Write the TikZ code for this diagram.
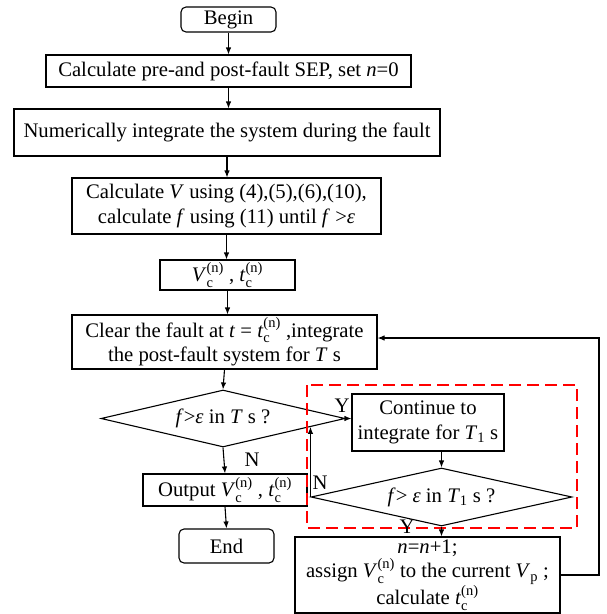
\documentclass[tikz,border=0pt]{standalone}
\usepackage{fontspec}
\setmainfont{Liberation Serif}
\usetikzlibrary{arrows.meta,shapes.geometric,calc}
\newcommand\scsup[2]{\rlap{\raisebox{-0.25ex}{\textsubscript{#1}}}\raisebox{0.2ex}{\textsuperscript{#2}}}
\tikzset{
  base/.style={draw, line width=1.1pt, inner sep=0pt, align=center, font=\fontsize{20.7}{24.5}\selectfont},
  rbox/.style={base},
  term/.style={base, rounded corners=5pt},
  dec/.style={base, shape=diamond},
  arr/.style={line width=1.1pt, -{Latex[length=7pt,width=5.5pt]}},
  lbl/.style={font=\fontsize{20.7}{24}\selectfont, inner sep=0pt},
  redbox/.style={draw=red, line width=1.8pt, dash pattern=on 12pt off 6pt}
}
\begin{document}
\begin{tikzpicture}[x=1pt,y=-1pt]
\useasboundingbox (0,0) rectangle (606,614);
\node[term, minimum width=95pt, minimum height=25pt] (begin) at (228.5,19.5) {Begin};
\node[rbox, minimum width=365pt, minimum height=32pt] (b1) at (228.5,71) {Calculate pre-and post-fault SEP, set \textit{n}=0};
\node[rbox, minimum width=426pt, minimum height=47pt] (b2) at (227,132.5) {Numerically integrate the system during the fault};
\node[rbox, minimum width=309pt, minimum height=56pt] (b3) at (226.5,206) {Calculate \textit{V} using (4),(5),(6),(10),\\calculate \textit{f} using (11) until \textit{f} >\textit{ε}};
\node[rbox, minimum width=135pt, minimum height=30pt] (b4) at (227.5,275) {\textit{V}\scsup{c}{(n)} , \textit{t}\scsup{c}{(n)}};
\node[rbox, minimum width=305pt, minimum height=54pt] (b5) at (224.5,342) {Clear the fault at \textit{t} = \textit{t}\scsup{c}{(n)} ,integrate\\the post-fault system for \textit{T} s};
\node[dec, aspect=4.28, minimum width=244pt, minimum height=57pt] (d1) at (223,418.5) {\textit{f}>\textit{ε} in \textit{T} s ?};
\node[rbox, minimum width=164pt, minimum height=32pt] (out) at (225,490) {Output \textit{V}\scsup{c}{(n)} , \textit{t}\scsup{c}{(n)}};
\node[term, minimum width=95pt, minimum height=34pt] (end) at (226.5,546) {End};
\node[rbox, minimum width=152pt, minimum height=57pt] (cont) at (428,422.5) {Continue to\\integrate for \textit{T}\textsubscript{1} s};
\node[dec, aspect=4.5, minimum width=261pt, minimum height=58pt] (d2) at (441.5,497) {\textit{f}> \textit{ε} in \textit{T}\textsubscript{1} s ?};
\node[rbox, minimum width=265pt, minimum height=76pt] (bot) at (427.5,575) {\textit{n}=\textit{n}+1;\\assign \textit{V}\scsup{c}{(n)} to the current \textit{V}\textsubscript{p} ;\\calculate \textit{t}\scsup{c}{(n)}};
\draw[redbox] (307,385) rectangle (577,528);
\coordinate (loopTop) at (599,338);
\coordinate (nEnd) at ($(d1.south)!0.713!(d1.east)$);
\draw[arr] (begin.south) -- (begin.south |- b1.north);
\draw[arr] (b1.south) -- (b1.south |- b2.north);
\draw[arr] (b2.south) -- (b2.south |- b3.north);
\draw[arr] (b3.south) -- (b3.south |- b4.north);
\draw[arr] (b4.south) -- (b4.south |- b5.north);
\draw[arr] (b5.south) -- (d1.north);
\draw[arr] (d1.south) -- (out.north);
\draw[arr] (out.south) -- (end.north);
\draw[arr] (d1.east) -- (d1.east -| cont.west);
\draw[arr] (cont.south -| d2.north) -- (d2.north);
\draw[arr] (d2.south) -- (d2.south |- bot.north);
\draw[arr] (d2.west) -- (d2.west |- nEnd);
\draw[arr] (bot.east) -| (loopTop) -- (loopTop -| b5.east);
\node[lbl] (ly1) at (342,406) {Y};
\node[lbl] (ln1) at (252,460) {N};
\node[lbl] (ln2) at (320,483) {N};
\node[lbl] (ly2) at (407,527) {Y};
\end{tikzpicture}
\end{document}
